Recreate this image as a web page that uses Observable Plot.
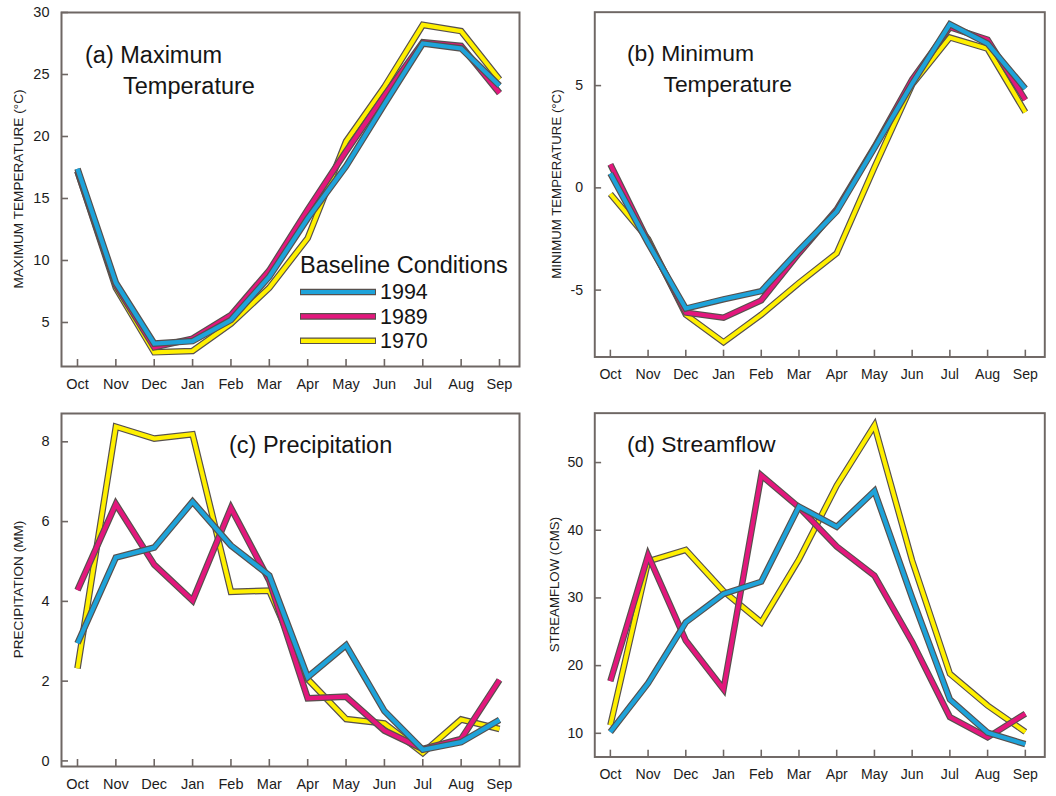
<!DOCTYPE html>
<html><head><meta charset="utf-8">
<script src="https://cdn.jsdelivr.net/npm/d3@7"></script>
<script src="https://cdn.jsdelivr.net/npm/@observablehq/plot@0.6"></script>
<style>
body{margin:0;background:#fff;}
#root{position:relative;width:1056px;height:796px;overflow:hidden;background:#fff;font-family:"Liberation Sans",Arial,sans-serif;}
.panel{position:absolute;}
</style></head><body><div id="root"></div>
<script>
const months = ["Oct","Nov","Dec","Jan","Feb","Mar","Apr","May","Jun","Jul","Aug","Sep"];
const years = ["1994","1989","1970"];
const colors = {"1994":"#1ea3da","1989":"#e3177d","1970":"#fff000"};

const maxTemp1994 = [17.4, 8.2, 3.3, 3.5, 5.2, 8.7, 13.4, 17.6, 22.6, 27.5, 27.1, 24.1];
const maxTemp1989 = [17.2, 8.0, 3.0, 3.7, 5.6, 9.2, 14.1, 18.8, 23.3, 27.6, 27.3, 23.5];
const maxTemp1970 = [17.2, 7.8, 2.6, 2.7, 4.9, 7.8, 11.8, 19.6, 24.0, 29.0, 28.5, 24.6];

const minTemp1994 = [0.7, -2.7, -5.9, -5.45, -5.05, -3.05, -1.15, 1.95, 5.1, 8.0, 7.05, 4.85];
const minTemp1989 = [1.15, -2.6, -6.1, -6.35, -5.5, -3.2, -1.05, 2.0, 5.3, 7.85, 7.25, 4.3];
const minTemp1970 = [-0.3, -2.5, -6.2, -7.55, -6.2, -4.65, -3.2, 1.0, 5.05, 7.35, 6.8, 3.7];

const precip1994 = [2.95, 5.1, 5.35, 6.5, 5.4, 4.65, 2.1, 2.9, 1.25, 0.28, 0.47, 1.03];
const precip1989 = [4.28, 6.44, 4.92, 4.02, 6.34, 4.52, 1.57, 1.61, 0.76, 0.3, 0.55, 2.03];
const precip1970 = [2.32, 8.38, 8.08, 8.19, 4.24, 4.27, 2.05, 1.05, 0.94, 0.2, 1.04, 0.8];

const stream1994 = [10.2, 17.4, 26.4, 30.6, 32.4, 43.5, 40.5, 45.8, 30.0, 15.0, 10.1, 8.4];
const stream1989 = [17.7, 36.3, 23.7, 16.5, 48.1, 43.4, 37.6, 33.3, 23.5, 12.4, 9.4, 12.9];
const stream1970 = [11.2, 35.4, 37.1, 31.0, 26.4, 35.7, 46.6, 55.5, 35.5, 18.8, 14.1, 10.2];

const frameColor = "#6e6764";
const outlineColor = "#57504d";
const root = d3.select("#root");

function makePanel(cfg) {
  const H = 400;
  const frameW = cfg.width - cfg.mL - cfg.mR;
  const frameH = H - cfg.mT - cfg.mB;
  const tickLen = 7;
  const drawOrder = ["1970", "1989", "1994"];
  const marks = [];
  // inward tick marks
  marks.push(Plot.tickX(d3.range(12), {x: d => d, stroke: frameColor, strokeWidth: 1.6, insetTop: frameH - tickLen}));
  marks.push(Plot.tickY(cfg.yTicks, {y: d => d, stroke: frameColor, strokeWidth: 1.6, insetRight: frameW - tickLen}));
  for (const yr of drawOrder) {
    const data = cfg.series[yr].map((v, i) => ({m: i, v, year: yr}));
    marks.push(Plot.line(data, {x: "m", y: "v", stroke: outlineColor, strokeWidth: 6.6, strokeLinejoin: "miter", strokeMiterlimit: 3, strokeLinecap: "butt"}));
    marks.push(Plot.line(data, {x: "m", y: "v", stroke: colors[yr], strokeWidth: 4.2, strokeLinejoin: "miter", strokeMiterlimit: 3, strokeLinecap: "butt"}));
  }
  marks.push(Plot.axisX({ticks: d3.range(12), tickFormat: i => months[i], tickSize: 0, tickPadding: 12, label: null, fontSize: 14.5, fill: "#1c1c1c"}));
  marks.push(Plot.axisY({ticks: cfg.yTicks, tickFormat: d => String(d), tickSize: 0, tickPadding: 12, label: null, fontSize: 14.5, fill: "#1c1c1c"}));
  marks.push(Plot.frame({stroke: frameColor, strokeWidth: 2}));

  const svg = Plot.plot({
    width: cfg.width, height: H,
    marginLeft: cfg.mL, marginRight: cfg.mR, marginTop: cfg.mT, marginBottom: cfg.mB,
    x: {type: "linear", domain: cfg.xDomain},
    y: {type: "linear", domain: cfg.yDomain},
    style: {fontFamily: "'Liberation Sans', Arial, sans-serif", fontSize: "14.5px", color: "#1c1c1c", background: "transparent", overflow: "visible"},
    marks
  });
  const s = d3.select(svg);
  s.append("text")
    .attr("transform", `translate(${cfg.labelX},${cfg.labelY}) rotate(-90)`)
    .attr("text-anchor", "middle").attr("dy", "0.36em")
    .attr("font-size", 13.6).attr("fill", "#1c1c1c")
    .text(cfg.yLabel);
  for (const t of cfg.titles) {
    s.append("text").attr("x", t.x).attr("y", t.y).attr("text-anchor", "start")
      .attr("font-size", 23.5).attr("fill", "#151515").text(t.text);
  }
  if (cfg.legend) {
    const g = s.append("g").attr("text-anchor", "start");
    g.append("text").attr("x", 300).attr("y", 273).attr("font-size", 23.5).attr("fill", "#151515").text("Baseline Conditions");
    years.forEach((yr, k) => {
      const cy = 292 + k * 24.4;
      g.append("line").attr("x1", 300).attr("x2", 376).attr("y1", cy).attr("y2", cy)
        .attr("stroke", outlineColor).attr("stroke-width", 6.6);
      g.append("line").attr("x1", 301).attr("x2", 375).attr("y1", cy).attr("y2", cy)
        .attr("stroke", colors[yr]).attr("stroke-width", 4.2);
      g.append("text").attr("x", 380).attr("y", cy + 7.3).attr("font-size", 21.5).attr("fill", "#151515").text(yr);
    });
  }
  const div = root.append("div").attr("class", "panel")
    .style("left", cfg.left + "px").style("top", cfg.top + "px");
  div.node().appendChild(svg);
}

makePanel({
  left: 0, top: 0, width: 530, mL: 61, mR: 11, mT: 12, mB: 34,
  xDomain: [-0.417, 11.521], yDomain: [1.45, 30], yTicks: [5, 10, 15, 20, 25, 30],
  series: {"1994": maxTemp1994, "1989": maxTemp1989, "1970": maxTemp1970},
  yLabel: "MAXIMUM TEMPERATURE (°C)", labelX: 18, labelY: 189,
  titles: [{text: "(a) Maximum", x: 85, y: 62.5}, {text: "Temperature", x: 123, y: 94}],
  legend: true
});
makePanel({
  left: 530, top: 0, width: 540, mL: 66, mR: 12, mT: 12, mB: 34,
  xDomain: [-0.413, 11.516], yDomain: [-8.27, 8.59], yTicks: [-5, 0, 5],
  series: {"1994": minTemp1994, "1989": minTemp1989, "1970": minTemp1970},
  yLabel: "MINIMUM TEMPERATURE (°C)", labelX: 26.5, labelY: 189,
  titles: [{text: "(b) Minimum", x: 99.5, y: 62.5}, {text: "Temperature", x: 137, y: 94}]
});
makePanel({
  left: 0, top: 400, width: 530, mL: 61, mR: 11, mT: 13, mB: 34,
  xDomain: [-0.417, 11.521], yDomain: [-0.14, 8.71], yTicks: [0, 2, 4, 6, 8],
  series: {"1994": precip1994, "1989": precip1989, "1970": precip1970},
  yLabel: "PRECIPITATION (MM)", labelX: 18, labelY: 189.5,
  titles: [{text: "(c) Precipitation", x: 229, y: 53}]
});
makePanel({
  left: 530, top: 400, width: 540, mL: 66, mR: 12, mT: 13, mB: 34,
  xDomain: [-0.413, 11.516], yDomain: [6.5, 57.3], yTicks: [10, 20, 30, 40, 50],
  series: {"1994": stream1994, "1989": stream1989, "1970": stream1970},
  yLabel: "STREAMFLOW (CMS)", labelX: 25, labelY: 189.5,
  titles: [{text: "(d) Streamflow", x: 99.5, y: 53}]
});
</script></body></html>
